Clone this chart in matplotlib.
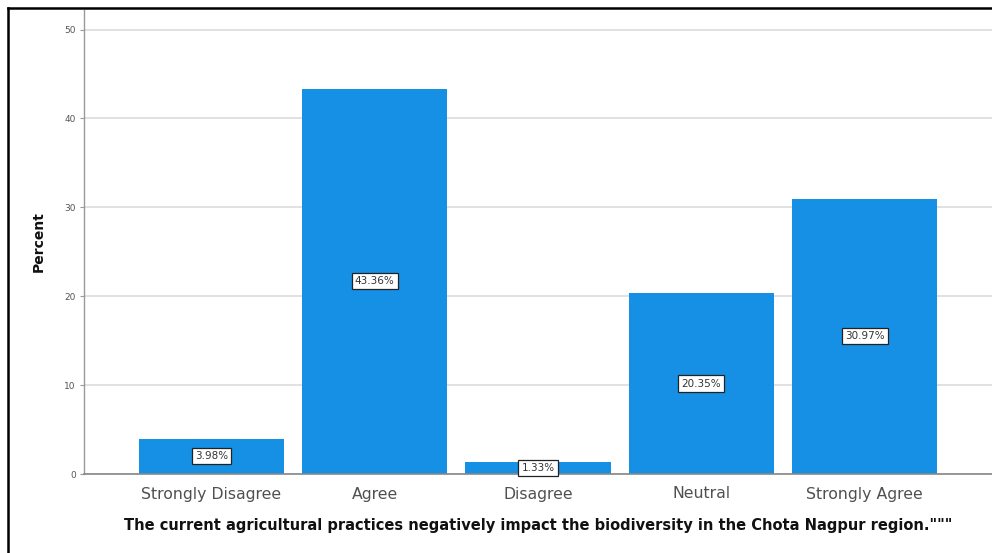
import matplotlib
matplotlib.use("Agg")
import matplotlib.pyplot as plt
from matplotlib.lines import Line2D

categories = ["Strongly Disagree", "Agree", "Disagree", "Neutral", "Strongly Agree"]
percents = [3.98, 43.36, 1.33, 20.35, 30.97]
yticks = [0, 10, 20, 30, 40, 50]
xlabel = "The current agricultural practices negatively impact the biodiversity in the Chota Nagpur region.\"\"\""
ylabel = "Percent"

plt.rcParams["font.family"] = ["DejaVu Sans"]

W, H = 992, 553
fig = plt.figure(figsize=(W / 100, H / 100), dpi=100)
fig.patch.set_facecolor("white")

ax = fig.add_axes([84 / W, 1 - 474 / H, 1 - 84 / W, (474 - 10) / H])
x = list(range(len(categories)))
ax.bar(x, percents, width=0.89, color="#1690E4", zorder=2)

ax.set_xlim(-0.78, len(categories) - 1 + 0.78)
ax.set_ylim(0, 52.2)
ax.set_yticks(yticks)
ax.set_yticklabels([str(t) for t in yticks], fontsize=6.5, color="#555555")
ax.set_xticks(x)
ax.set_xticklabels(categories, fontsize=11.3, color="#505050")
ax.tick_params(axis="x", length=0, pad=9)
ax.tick_params(axis="y", length=3, width=0.8, color="#999999", pad=3)

ax.grid(axis="y", color="#dcdcdc", linewidth=1.2, zorder=0)
for side in ["top", "right"]:
    ax.spines[side].set_visible(False)
ax.spines["left"].set_color("#999999")
ax.spines["bottom"].set_color("#888888")
ax.spines["left"].set_linewidth(1.0)
ax.spines["bottom"].set_linewidth(1.2)

for xi, v in zip(x, percents):
    ax.text(xi, v / 2, f"{v:.2f}%", ha="center", va="center", fontsize=7.5,
            color="#333333", zorder=4,
            bbox=dict(boxstyle="square,pad=0.3", facecolor="white",
                      edgecolor="#222222", linewidth=0.9))

ax.set_xlabel(xlabel, fontsize=10.5, fontweight="bold", color="#111111", labelpad=12)
ax.set_ylabel(ylabel, fontsize=10, fontweight="bold", color="#111111", labelpad=13)

# outer frame on the left and top edges
fig.add_artist(Line2D([8 / W, 8 / W], [0, 1 - 8 / H], transform=fig.transFigure,
                      color="black", linewidth=1.8))
fig.add_artist(Line2D([8 / W, 1], [1 - 8 / H, 1 - 8 / H], transform=fig.transFigure,
                      color="black", linewidth=1.8))

fig.savefig("out.png", dpi=100)
